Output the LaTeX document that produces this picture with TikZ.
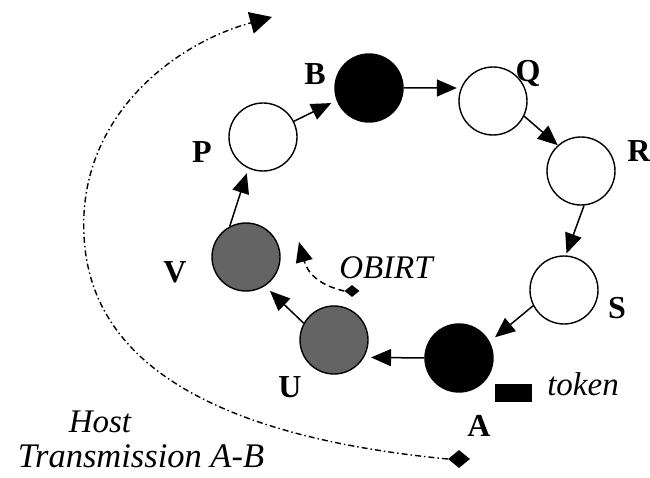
\documentclass[tikz,border=0pt]{standalone}
\usepackage{fontspec}
\setmainfont{Liberation Serif}
\usetikzlibrary{arrows.meta,shapes.geometric}
\definecolor{grayfill}{RGB}{100,100,100}
\begin{document}
\begin{tikzpicture}[x=1pt,y=-1pt,
  station/.style={circle,draw=black,line width=1.4pt,minimum size=68pt,inner sep=0pt},
  lbl/.style={font=\fontsize{32}{36}\selectfont\bfseries,anchor=base,inner sep=0pt},
  itl/.style={font=\fontsize{33}{38}\selectfont\itshape,anchor=base,inner sep=0pt},
  arr/.style={-{Triangle[length=20pt,width=17pt]},line width=1.5pt},
  dia/.style={diamond,fill=black,inner sep=0pt},
  dashline/.style={dash pattern=on 6pt off 4pt},
  dashdotline/.style={dash pattern=on 6pt off 3pt on 1.5pt off 3pt}]
\useasboundingbox (0,0) rectangle (650,478);

% stations
\node[station,fill=white] (p) at (263,137) {};
\node[station,fill=black] (b) at (369,88) {};
\node[station,fill=white] (q) at (493,101) {};
\node[station,fill=white] (r) at (581,171) {};
\node[station,fill=white] (s) at (564,290) {};
\node[station,fill=black] (a) at (459,358) {};
\node[station,fill=grayfill] (u) at (334,340) {};
\node[station,fill=grayfill] (v) at (246,257) {};

% labels
\node[lbl] (lB) at (315,85) {B};
\node[lbl] (lP) at (202,163) {P};
\node[lbl] (lQ) at (528,82) {Q};
\node[lbl] (lR) at (639,162) {R};
\node[lbl] (lS) at (617,318) {S};
\node[lbl] (lA) at (479,436) {A};
\node[lbl] (lU) at (290,397) {U};
\node[lbl] (lV) at (175,282) {V};

\node[itl] (obirt) at (386,278) {OBIRT};
\node[itl] (tok) at (583,395) {token};
\node[itl] (host) at (100,432) {Host};
\node[itl,font=\fontsize{34.5}{40}\selectfont\itshape] (trans) at (141,467) {Transmission A-B};

% token
\node[fill=black,minimum width=37pt,minimum height=18pt,inner sep=0pt] (tk) at (513.5,393) {};

% ring arrows
\draw[arr,shorten >=6pt] (p.27) -- (b.201);
\draw[arr,shorten >=4pt] (b.0) -- (q.158);
\draw[arr] (q.-26) -- (r.132);
\draw[arr,shorten >=2pt] (r.-85) -- (s.87);
\draw[arr,shorten >=7pt] (s.207) -- (a.28);
\draw[arr,shorten >=7pt] (a.180) -- (u.-30);
\draw[arr,shorten >=7pt] (u.151) -- (v.-57);
\draw[arr,shorten >=5pt] (v.118) -- (p.-115);

% OBIRT
\node[dia,minimum width=15pt,minimum height=12pt] (dO) at (352,291) {};
\coordinate (oT) at (299,242);
\draw[arr,dashline] (dO.west) .. controls (322,286) and (308,275) .. (oT);

% host transmission
\node[dia,minimum width=22pt,minimum height=18pt] (dA) at (459,459) {};
\coordinate (hM) at (84,235);
\coordinate (hT) at (272,17);
\draw[-{Triangle[length=22pt,width=22pt]},line width=1.4pt,dashdotline]
  (dA.west) .. controls (250,440) and (90,380) .. (hM)
  .. controls (78,120) and (170,45) .. (hT);
\end{tikzpicture}
\end{document}
